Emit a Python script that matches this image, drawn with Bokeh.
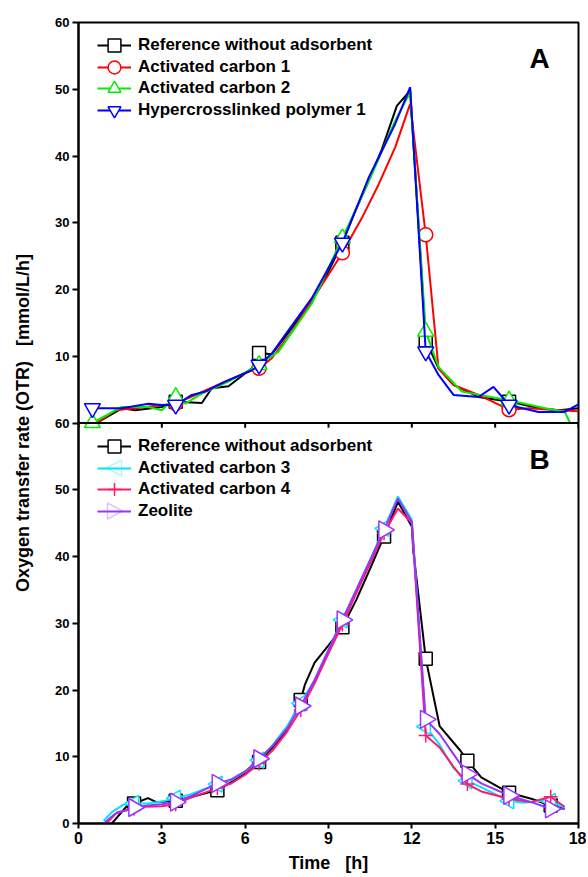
import numpy as np
from bokeh.plotting import figure
from bokeh.models import Range1d, FixedTicker, Legend, LegendItem, Span, Label, PolyAnnotation
from bokeh.embed import file_html
from bokeh.resources import INLINE

# ---------------- Panel A data ----------------
a_ref_t = [0.24, 0.5, 0.72, 1.56, 2.04, 3.0, 3.5, 4.44, 4.8, 5.4, 6.24, 6.5, 6.96, 7.44, 7.98, 8.4, 8.88,
           9.5, 9.96, 10.44, 10.92, 11.46, 11.94, 12.5, 12.96, 13.5, 14.4, 15.5, 16.6, 17.3, 18.0]
a_ref_y = [0.0, 0.0, 0.15, 2.2, 1.9, 2.4, 3.2, 3.0, 5.2, 5.5, 8.2, 10.5, 10.3, 12.9, 15.9, 18.2, 21.7,
           27.0, 31.7, 36.2, 41.0, 47.5, 49.8, 12.4, 8.2, 5.7, 3.9, 3.2, 2.2, 1.9, 2.2]
a_ref_mk = [3.5, 6.5, 9.5, 12.5, 15.5]

a_ac1_t = [0.66, 1.32, 2.04, 3.0, 3.5, 4.2, 5.4, 6.24, 6.5, 6.96, 7.68, 8.4, 9.0, 9.5, 10.2, 10.8, 11.4,
           11.94, 12.5, 12.96, 13.5, 14.4, 15.5, 16.2, 17.3, 18.0]
a_ac1_y = [0.0, 1.9, 2.2, 2.7, 2.9, 4.2, 6.4, 7.9, 8.2, 9.7, 13.7, 18.4, 22.2, 25.5, 30.7, 35.7, 41.3,
           47.8, 28.2, 8.2, 5.7, 4.2, 2.0, 2.2, 1.9, 1.75]
a_ac1_mk = [3.5, 6.5, 9.5, 12.5, 15.5]

a_ac2_t = [0.5, 1.56, 2.52, 3.0, 3.5, 3.84, 4.44, 5.4, 6.5, 7.2, 8.4, 9.5, 10.56, 11.4, 11.94, 12.5,
           12.96, 13.8, 15.5, 16.8, 17.5, 17.7]
a_ac2_y = [0.0, 2.4, 2.4, 1.9, 3.9, 2.9, 4.4, 6.2, 8.7, 10.7, 17.9, 27.7, 37.2, 45.3, 49.5, 13.7,
           8.4, 4.7, 3.4, 2.2, 1.7, 0.0]
a_ac2_mk = [0.5, 3.5, 6.5, 9.5, 12.5, 15.5]

a_hcp_t = [0.5, 1.56, 2.52, 3.0, 3.5, 4.08, 4.56, 5.28, 6.24, 6.5, 6.96, 7.44, 8.4, 9.5, 10.44, 11.4,
           11.94, 12.5, 12.96, 13.5, 14.4, 14.94, 15.5, 16.56, 17.5, 18.0]
a_hcp_y = [2.2, 2.2, 2.9, 2.7, 2.7, 4.2, 4.7, 6.2, 7.9, 8.7, 10.4, 13.2, 18.7, 27.0, 36.7, 44.8,
           50.3, 10.7, 7.2, 4.2, 3.9, 5.4, 2.7, 1.65, 1.65, 2.8]
a_hcp_mk = [0.5, 3.5, 6.5, 9.5, 12.5, 15.5]

# ---------------- Panel B data ----------------
b_mk = [2.0, 3.5, 5.0, 6.5, 8.0, 9.5, 11.0, 12.5, 14.0, 15.5, 17.0]

b_ref_t = [1.2, 1.8, 2.0, 2.5, 2.8, 3.5, 4.0, 5.0, 5.5, 6.1, 6.5, 7.0, 7.5, 8.0, 8.15, 8.5, 9.0, 9.5,
           10.0, 10.5, 11.0, 11.5, 12.0, 12.05, 12.5, 13.0, 13.75, 14.0, 14.5, 15.5, 16.3, 17.0, 17.5]
b_ref_y = [0.0, 2.9, 3.0, 3.8, 3.2, 3.4, 3.9, 5.0, 6.2, 7.7, 9.2, 11.5, 14.0, 18.5, 20.8, 24.1, 26.7, 29.4,
           33.5, 38.2, 43.0, 48.2, 44.5, 41.0, 24.7, 14.6, 10.9, 9.4, 6.9, 4.6, 3.7, 2.7, 2.2]

b_ac3_t = [0.9, 1.2, 1.6, 2.0, 2.5, 3.0, 3.5, 4.0, 5.0, 5.5, 6.0, 6.5, 7.0, 7.5, 8.0, 8.5, 9.0, 9.5,
           10.0, 10.5, 11.0, 11.5, 12.0, 12.5, 13.0, 13.5, 14.0, 14.5, 15.5, 16.0, 16.9, 17.0, 17.5]
b_ac3_y = [0.4, 1.7, 2.8, 3.0, 3.0, 3.3, 3.8, 4.3, 5.9, 6.5, 7.8, 9.5, 11.8, 14.5, 18.0, 21.5, 26.0, 30.5,
           35.0, 39.5, 44.2, 49.0, 45.5, 14.5, 11.8, 8.3, 6.4, 5.4, 3.4, 3.1, 3.5, 3.3, 2.4]

b_ac4_t = [1.0, 1.4, 2.0, 2.4, 3.0, 3.5, 4.0, 5.0, 5.5, 6.0, 6.5, 7.0, 7.5, 8.0, 8.5, 9.0, 9.5, 10.0,
           10.5, 11.0, 11.5, 12.0, 12.5, 13.0, 13.5, 14.0, 14.5, 15.5, 16.3, 17.0, 17.5]
b_ac4_y = [0.0, 1.7, 2.2, 2.5, 2.6, 2.9, 3.8, 5.3, 6.0, 7.3, 9.0, 11.0, 13.7, 17.0, 21.0, 25.5, 29.8, 34.5,
           39.0, 43.5, 47.2, 45.0, 13.2, 11.4, 8.5, 5.9, 4.8, 3.7, 3.2, 4.0, 2.5]

b_zeo_t = [0.95, 1.3, 2.0, 2.5, 3.0, 3.5, 4.0, 5.0, 5.5, 6.0, 6.5, 7.0, 7.5, 8.0, 8.5, 9.0, 9.5, 10.0,
           10.5, 11.0, 11.5, 12.0, 12.5, 13.0, 13.5, 14.0, 14.5, 15.5, 16.3, 17.0, 17.5]
b_zeo_y = [0.2, 1.4, 2.4, 2.7, 2.9, 3.2, 4.0, 6.0, 6.6, 7.8, 9.7, 11.7, 14.2, 17.6, 21.5, 26.0, 30.5, 35.0,
           39.5, 44.0, 48.7, 45.2, 15.6, 13.4, 10.4, 7.4, 6.0, 4.2, 3.2, 2.2, 2.2]

x_ticks = [0, 3, 6, 9, 12, 15, 18]
y_ticks = [0, 10, 20, 30, 40, 50, 60]

FONT = "Liberation Sans"
C_AC3 = "#00E5FF"
C_ZEO = "#9933FF"

p = figure(width=586, height=877, x_range=Range1d(0, 18), y_range=Range1d(0, 120),
           output_backend="svg", toolbar_location=None,
           min_border_left=78, min_border_right=8, min_border_top=22, min_border_bottom=54)
p.extra_y_ranges = {"A": Range1d(-60, 60)}
p.grid.visible = False
p.outline_line_color = "black"
p.outline_line_width = 2
p.background_fill_color = "white"
p.border_fill_color = "white"

# axes
p.xaxis.ticker = FixedTicker(ticks=x_ticks)
p.xaxis.axis_label = "Time\u00a0\u00a0\u00a0[h]"
p.yaxis.ticker = FixedTicker(ticks=y_ticks + [v + 60 for v in y_ticks[1:]])
p.yaxis.major_label_overrides = {v + 60: str(v) for v in y_ticks[1:]}
p.yaxis.axis_label = "Oxygen transfer rate (OTR)\u00a0\u00a0\u00a0[mmol/L/h]"
for ax in (p.xaxis[0], p.yaxis[0]):
    ax.axis_line_width = 2
    ax.axis_line_color = "black"
    ax.major_tick_line_width = 2
    ax.major_tick_in = 0
    ax.minor_tick_line_color = None
    ax.major_label_text_font = FONT
    ax.major_label_text_font_style = "bold"
    ax.major_label_text_color = "black"
    ax.axis_label_text_font = FONT
    ax.axis_label_text_font_style = "bold"
    ax.axis_label_text_color = "black"
p.xaxis.major_tick_out = 5
p.yaxis.major_tick_out = 6
p.xaxis.major_label_text_font_size = "16px"
p.yaxis.major_label_text_font_size = "13px"
p.xaxis.axis_label_text_font_size = "18px"
p.yaxis.axis_label_text_font_size = "18px"
p.xaxis.major_label_standoff = 3
p.yaxis.major_label_standoff = 3
p.xaxis.axis_label_standoff = 6
p.yaxis.axis_label_standoff = 19

# separator between the two panels, with its downward tick marks
p.add_layout(Span(location=60, dimension="width", line_color="black", line_width=2))
p.segment(x0=x_ticks, y0=[60] * len(x_ticks), x1=x_ticks, y1=[59.3] * len(x_ticks),
          line_color="black", line_width=2)


def series(t, y, mk, color, marker, size, angle=0.0, range_name="default"):
    t = np.asarray(t, dtype=float)
    y = np.asarray(y, dtype=float)
    sel = np.isin(np.round(t, 3), np.round(mk, 3))
    ln = p.line(t, y, line_color=color, line_width=2, y_range_name=range_name)
    sc = p.scatter(t[sel], y[sel], marker=marker, size=size, angle=angle,
                   fill_color="white", line_color=color, line_width=1.5, y_range_name=range_name)
    return [ln, sc]


rA = [
    ("Reference without adsorbent", series(a_ref_t, a_ref_y, a_ref_mk, "black", "square", 13, range_name="A")),
    ("Activated carbon 1", series(a_ac1_t, a_ac1_y, a_ac1_mk, "#FF0000", "circle", 14, range_name="A")),
    ("Activated carbon 2", series(a_ac2_t, a_ac2_y, a_ac2_mk, "#00EE00", "triangle", 16, range_name="A")),
    ("Hypercrosslinked polymer 1", series(a_hcp_t, a_hcp_y, a_hcp_mk, "#0000FF", "inverted_triangle", 16, range_name="A")),
]
rB = [("Reference without adsorbent", series(b_ref_t, b_ref_y, b_mk, "black", "square", 13))]
ac3 = series(b_ac3_t, b_ac3_y, b_mk, C_AC3, "triangle", 16, angle=np.pi / 2)
rB.append(("Activated carbon 3", ac3[:1]))
rB.append(("Activated carbon 4", series(b_ac4_t, b_ac4_y, b_mk, "#FF1A6E", "cross", 14)))
zeo = series(b_zeo_t, b_zeo_y, b_mk, C_ZEO, "triangle", 18, angle=-np.pi / 2)
rB.append(("Zeolite", zeo[:1]))

ROW = 21.5


def make_legend(items, top_vy):
    # one single-item legend per row, so that the rows can sit closer than the glyph box height
    for i, (lab, rends) in enumerate(items):
        lg = Legend(items=[LegendItem(label=lab, renderers=rends)], location=(19, top_vy - i * ROW),
                    orientation="vertical", padding=0, spacing=0, margin=0,
                    glyph_width=34, glyph_height=32, label_height=32, label_standoff=7,
                    label_text_font=FONT, label_text_font_style="bold", label_text_font_size="17px",
                    label_text_color="black", border_line_color=None, background_fill_alpha=0)
        p.add_layout(lg, "center")


make_legend(rA, 762)
make_legend(rB, 361)

# legend symbols for the sideways triangles (legend glyphs are never rotated by Bokeh)
cx = 36
cy_ac3 = 361 + 16 - ROW
cy_zeo = 361 + 16 - 3 * ROW
p.add_layout(PolyAnnotation(xs=[cx - 8, cx + 7, cx + 7], ys=[cy_ac3, cy_ac3 + 8, cy_ac3 - 8],
                            xs_units="screen", ys_units="screen", fill_color="white", fill_alpha=1,
                            line_color=C_AC3, line_width=1.5, level="overlay"))
p.add_layout(PolyAnnotation(xs=[cx + 8, cx - 7, cx - 7], ys=[cy_zeo, cy_zeo + 8, cy_zeo - 8],
                            xs_units="screen", ys_units="screen", fill_color="white", fill_alpha=1,
                            line_color=C_ZEO, line_width=1.5, level="overlay"))

p.add_layout(Label(x=16.6, y=54.6, y_range_name="A", text="A", text_font=FONT, text_font_style="bold",
                   text_font_size="28px", text_align="center", text_baseline="middle", text_color="black"))
p.add_layout(Label(x=16.6, y=54.5, text="B", text_font=FONT, text_font_style="bold",
                   text_font_size="28px", text_align="center", text_baseline="middle", text_color="black"))

open("out.html", "w").write(file_html(p, INLINE))
